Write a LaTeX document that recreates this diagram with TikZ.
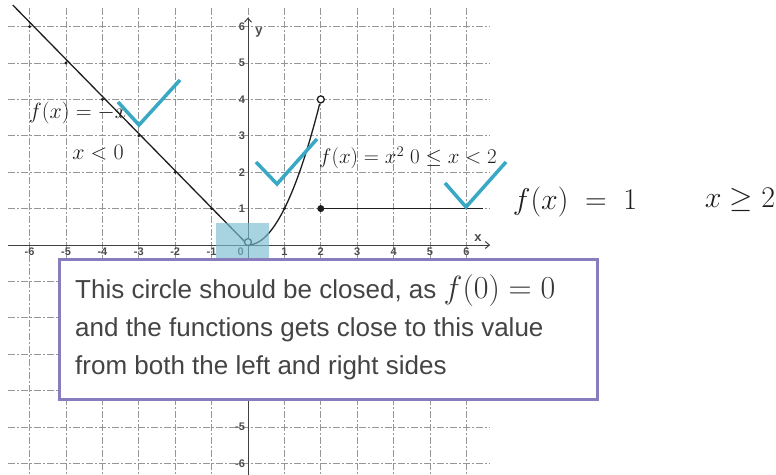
\documentclass[tikz,border=0pt]{standalone}
\usepackage{fix-cm}
\usepackage{fontspec}
\setmainfont{Liberation Sans}
\usetikzlibrary{arrows.meta}
\definecolor{boxpurple}{RGB}{137,125,190}
\definecolor{checkteal}{RGB}{56,168,196}
\definecolor{hilite}{RGB}{120,190,208}
\definecolor{notegray}{RGB}{68,68,68}
\definecolor{ink}{RGB}{30,30,30}
\definecolor{gridgray}{RGB}{150,150,150}
\tikzset{
 gridline/.style={gridgray, line width=0.9bp, dash pattern=on 7bp off 2bp on 2bp off 2bp},
 axisline/.style={ink!85, line width=1bp},
 curve/.style={ink, line width=1.3bp},
 check/.style={checkteal, line width=3.5bp},
 hand/.style={ink, inner sep=0pt, font=\fontsize{22bp}{24bp}\selectfont},
 smallhand/.style={ink, inner sep=0pt, font=\fontsize{21bp}{23bp}\selectfont},
 bighand/.style={ink, inner sep=0pt, font=\fontsize{30bp}{32bp}\selectfont},
 ticklab/.style={ink!80, inner sep=1bp, font=\fontsize{11bp}{12bp}\selectfont\bfseries},
 notetext/.style={notegray, anchor=base west, inner sep=0pt, font=\fontsize{26bp}{38bp}\selectfont},
}
\begin{document}
\begin{tikzpicture}[x=1bp,y=-1bp]
\useasboundingbox (0,0) rectangle (776,475);
\fill[white] (0,0) rectangle (776,475);
\begin{scope}[shift={(248bp,-245bp)}, x=36.4bp, y=36.4bp]
 % grid
 \foreach \k in {-6,...,6} {
   \draw[gridline] (\k,6.5) -- (\k,-6.4);
   \draw[gridline] (-6.6,\k) -- (6.65,\k);
 }
 % axes
 \draw[axisline,-{Straight Barb[length=4bp,width=7bp]}] (-6.6,0) -- (6.65,0);
 \draw[axisline,-{Straight Barb[length=4bp,width=7bp]}] (0,-6.35) -- (0,6.25);
 \node[ticklab] (ylab) at (0.3,5.85) {\fontsize{13bp}{14bp}\selectfont y};
 \node[ticklab] (xlab) at (6.32,0.2) {\fontsize{13bp}{14bp}\selectfont x};
 % tick labels
 \foreach \k in {1,...,6} {
   \node[ticklab, anchor=east] (yt\k) at (-0.05,\k) {\k};
   \node[ticklab, anchor=north] (xt\k) at (\k,-0.05) {\k};
   \node[ticklab, anchor=north] (xtm\k) at (-\k,-0.05) {-\k};
 }
 \foreach \k in {5,6} {
   \node[ticklab, anchor=east] (ytm\k) at (-0.05,-\k) {-\k};
 }
 \node[ticklab, anchor=north] (xt0) at (-0.2,-0.05) {0};
 % function pieces
 \draw[curve] (-6.46,6.59) -- (0,0);
 \foreach \k in {1,...,6} { \fill[ink] (-\k,\k) circle[radius=1.6bp]; }
 \fill[ink] (1,1) circle[radius=1.6bp];
 \draw[curve] plot[domain=0:1.97, samples=50] (\x,{\x*\x});
 \draw[curve, fill=white] (2,4) circle[radius=3.5bp];
 \draw[curve, fill=white] (0,0.08) circle[radius=3.5bp];
 \draw[curve] (2,1) -- (6.45,1);
 \fill[ink] (2,1) circle[radius=3.5bp];
\end{scope}
% handwritten labels
\node[hand] (lab1) at (78,113) {$f(x) = -x$};
\node[hand] (lab2) at (98,153) {$x<0$};
\node[smallhand] (lab3) at (408,158) {$f(x)=x^2\;0\leq x<2$};
\node[bighand] (lab4) at (575,202) {$f(x)\;=\;1$};
\node[bighand] (lab5) at (740,200) {$x\geq 2$};
% check marks
\draw[check] (118,102) -- (139,125) -- (180,80);
\draw[check] (256,162) -- (277,184) -- (317,139);
\draw[check] (445,183) -- (466,207) -- (506,162);
% highlight
\fill[hilite, opacity=0.65] (216,223) rectangle (269,258);
% note box
\node[draw=boxpurple, line width=3bp, fill=white, minimum width=538bp, minimum height=140bp, inner sep=0pt, anchor=north west] (note) at (58,258) {};
\node[notetext] (l1) at (75,299) {This circle should be closed, as {\color{ink!90}\fontsize{32bp}{38bp}\selectfont$f(0)=0$}};
\node[notetext] (l2) at (75,337) {and the functions gets close to this value};
\node[notetext] (l3) at (75,375) {from both the left and right sides};
\end{tikzpicture}
\end{document}
